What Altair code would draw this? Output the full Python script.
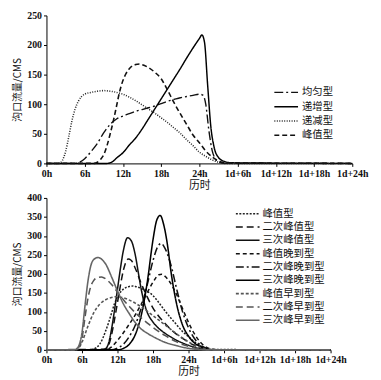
import altair as alt
import pandas as pd

TICK_HOURS = [0, 6, 12, 18, 24, 30, 36, 42, 48]
TICK_LABELS = ["0h", "6h", "12h", "18h", "24h", "1d+6h", "1d+12h", "1d+18h", "1d+24h"]
X_TITLE = "历时"
Y_TITLE = "沟口流量/CMS"

# ---------------- top panel ----------------
TOP_NAMES = ["均匀型", "递增型", "递减型", "峰值型"]

UNIFORM_H = [0, 4.5, 5, 6, 7, 8, 9, 10, 11, 12, 13, 14, 15, 16, 17, 18, 19, 20, 21, 22, 23, 24, 24.6, 25, 25.5, 26, 26.5, 27, 28, 48]
UNIFORM_V = [0, 0, 1, 8, 20, 34, 52, 66, 75, 80, 84, 88, 91, 94, 97, 101, 105, 108, 111, 113, 115, 117, 115, 100, 55, 22, 8, 3, 0, 0]

INCR_H = [0, 9.5, 10, 10.5, 11, 12, 13, 14, 15, 16, 17, 18, 19, 20, 21, 22, 23, 24, 24.4, 24.8, 25.3, 25.8, 26.3, 27, 28, 29, 48]
INCR_V = [0, 0, 1, 4, 9, 18, 31, 43, 58, 75, 92, 109, 126, 143, 160, 178, 195, 211, 217, 205, 132, 62, 28, 10, 3, 1, 0]

DECR_H = [0, 2, 2.5, 3, 3.5, 4, 4.5, 5, 5.5, 6, 7, 8, 9, 10, 11, 12, 13, 14, 15, 16, 17, 18, 19, 20, 21, 22, 23, 24, 25, 26, 27, 28, 48]
DECR_V = [0, 0, 5, 20, 45, 72, 92, 105, 113, 117, 120, 122, 123, 122, 120, 117, 112, 106, 99, 92, 85, 77, 69, 60, 51, 40, 30, 19, 12, 6, 2, 0, 0]

PEAK_H = [0, 7.5, 8, 8.5, 9, 9.5, 10, 10.5, 11, 11.5, 12, 12.5, 13, 14, 14.6, 15, 16, 17, 18, 19, 20, 21, 22, 23, 24, 25, 26, 27, 28, 48]
PEAK_V = [0, 0, 2, 7, 15, 30, 50, 72, 97, 122, 140, 152, 160, 167, 168, 167, 162, 154, 143, 124, 103, 84, 66, 48, 35, 21, 11, 4, 1, 0]

TOP_SERIES = [(UNIFORM_H, UNIFORM_V), (INCR_H, INCR_V), (DECR_H, DECR_V), (PEAK_H, PEAK_V)]
TOP_COLORS = ["#111111", "#000000", "#222222", "#111111"]
TOP_DASH = [[9, 3, 2, 3], [1, 0], [1, 1.5], [5, 3]]
TOP_WIDTH = [1.4, 1.6, 1.0, 1.5]

# ---------------- bottom panel ----------------
BOT_NAMES = ["峰值型", "二次峰值型", "三次峰值型", "峰值晚到型", "二次峰晚到型", "三次峰晚到型",
             "峰值早到型", "二次峰早到型", "三次峰早到型"]

B_PEAK_H = PEAK_H
B_PEAK_V = PEAK_V

B_P2_H = [0, 10, 10.5, 11, 11.5, 12, 12.5, 13, 13.8, 14.3, 15, 16, 17, 18, 19, 20, 21, 22, 23, 24, 25, 26, 27, 28, 48]
B_P2_V = [0, 2, 12, 40, 80, 125, 170, 210, 239, 236, 215, 175, 140, 110, 88, 70, 54, 41, 30, 20, 12, 6, 2, 0, 0]

B_P3_H = [0, 9.5, 10, 10.5, 11, 11.5, 12, 12.5, 13, 13.7, 14.3, 15, 15.5, 16, 16.5, 17, 18, 19, 20, 21, 22, 23, 24, 25, 26, 27, 28, 48]
B_P3_V = [0, 0, 3, 18, 55, 105, 160, 215, 262, 295, 288, 250, 205, 160, 125, 100, 73, 56, 44, 34, 25, 18, 12, 7, 3, 1, 0, 0]

B_LATE1_H = [0, 10, 11, 12, 13, 14, 15, 16, 17, 18, 19, 19.5, 20, 21, 22, 23, 24, 25, 26, 27, 28, 29, 48]
B_LATE1_V = [0, 0, 8, 25, 45, 68, 92, 120, 150, 178, 198, 199, 194, 175, 145, 108, 72, 42, 20, 7, 2, 0, 0]

B_LATE2_H = [0, 11, 12, 13, 14, 15, 16, 17, 18, 18.8, 19.4, 20, 21, 22, 23, 24, 25, 26, 27, 28, 48]
B_LATE2_V = [0, 0, 5, 15, 35, 65, 110, 170, 235, 272, 280, 268, 225, 160, 100, 58, 30, 13, 4, 0, 0]

B_LATE3_H = [0, 12, 13, 14, 15, 16, 17, 18, 18.6, 19.2, 19.8, 20.5, 21, 22, 23, 24, 25, 26, 27, 28, 48]
B_LATE3_V = [0, 0, 4, 15, 40, 90, 175, 290, 340, 354, 330, 270, 210, 120, 65, 36, 18, 9, 3, 0, 0]

B_EARLY1_H = [0, 5, 5.5, 6, 7, 8, 9, 10, 11, 11.8, 13, 14, 15, 16, 17, 18, 19, 20, 21, 22, 23, 24, 25, 26, 27, 28, 48]
B_EARLY1_V = [0, 0, 5, 20, 62, 98, 120, 132, 138, 140, 137, 131, 123, 113, 102, 90, 78, 66, 54, 42, 31, 21, 13, 6, 2, 0, 0]

B_EARLY2_H = [0, 5, 5.5, 6, 6.5, 7, 7.5, 8, 8.5, 9.3, 10, 11, 12, 13, 14, 15, 16, 17, 18, 19, 20, 21, 22, 23, 24, 25, 26, 27, 48]
B_EARLY2_V = [0, 1, 8, 30, 85, 135, 168, 183, 190, 192, 187, 172, 152, 132, 114, 98, 84, 71, 59, 48, 38, 29, 21, 14, 9, 5, 2, 0, 0]

B_EARLY3_H = [0, 4.8, 5, 5.5, 6, 6.5, 7, 7.5, 8, 8.7, 9.5, 10, 11, 12, 13, 14, 15, 16, 17, 18, 19, 20, 21, 22, 23, 24, 25, 26, 27, 48]
B_EARLY3_V = [0, 0, 2, 12, 45, 115, 180, 222, 238, 243, 236, 226, 192, 155, 121, 95, 72, 55, 44, 35, 27, 20, 15, 11, 7, 4, 2, 1, 0, 0]

BOT_SERIES = [(B_PEAK_H, B_PEAK_V), (B_P2_H, B_P2_V), (B_P3_H, B_P3_V),
              (B_LATE1_H, B_LATE1_V), (B_LATE2_H, B_LATE2_V), (B_LATE3_H, B_LATE3_V),
              (B_EARLY1_H, B_EARLY1_V), (B_EARLY2_H, B_EARLY2_V), (B_EARLY3_H, B_EARLY3_V)]
BOT_COLORS = ["#222222", "#111111", "#111111", "#111111", "#111111", "#000000", "#555555", "#555555", "#666666"]
BOT_DASH = [[2, 1.5], [7, 4], [1, 0], [4, 3], [8, 3, 2, 3], [1, 0], [3, 2], [7, 4], [1, 0]]
BOT_WIDTH = [1.5, 1.6, 1.5, 2.0, 2.0, 2.2, 1.0, 1.0, 1.3]


def frame(names, series):
    rows = []
    for name, (hs, vs) in zip(names, series):
        for h, v in zip(hs, vs):
            rows.append({"t": h, "q": v, "s": name})
    return pd.DataFrame(rows)


label_expr = "[" + ",".join("'%s'" % s for s in TICK_LABELS) + "][round(datum.value/6)]"


def panel(names, series, colors, dashes, widths, ymax, ystep, w, h, lx, ly, loff, rowpad):
    df = frame(names, series)
    leg = alt.Legend(orient="none", legendX=lx, legendY=ly, title=None,
                     symbolType="M-2,0H2", symbolSize=144, labelFont="Noto Sans CJK SC",
                     labelFontSize=10.5, labelColor="#111", rowPadding=rowpad, labelOffset=loff)
    return alt.Chart(df).mark_line(interpolate="monotone").encode(
        x=alt.X("t:Q", scale=alt.Scale(domain=[0, 48], nice=False),
                axis=alt.Axis(values=TICK_HOURS, labelExpr=label_expr, title=X_TITLE,
                              grid=False, tickSize=3, labelFlush=False)),
        y=alt.Y("q:Q", scale=alt.Scale(domain=[0, ymax], nice=False),
                axis=alt.Axis(values=list(range(0, ymax + 1, ystep)), title=Y_TITLE,
                              grid=False, tickSize=3)),
        color=alt.Color("s:N", scale=alt.Scale(domain=names, range=colors), legend=leg),
        strokeDash=alt.StrokeDash("s:N", scale=alt.Scale(domain=names, range=dashes), legend=leg),
        strokeWidth=alt.StrokeWidth("s:N", scale=alt.Scale(domain=names, range=widths), legend=leg),
        detail="s:N",
    ).properties(width=w, height=h)


top = panel(TOP_NAMES, TOP_SERIES, TOP_COLORS, TOP_DASH, TOP_WIDTH, 250, 50, 310, 150, 236, 71, 9, 1.5)
bottom = panel(BOT_NAMES, BOT_SERIES, BOT_COLORS, BOT_DASH, BOT_WIDTH, 400, 50, 288, 154, 197, 9, 8, 0.5)

chart = alt.vconcat(top, bottom, spacing=3).resolve_scale(
    color="independent", strokeDash="independent", strokeWidth="independent", x="independent", y="independent"
).resolve_legend(color="independent", strokeDash="independent", strokeWidth="independent").configure_view(
    stroke=None
).configure_axis(
    labelFont="Liberation Serif", labelFontWeight="bold", labelFontSize=10, labelColor="#111",
    titleFont="Noto Sans CJK SC", titleFontWeight="normal", titleColor="#111",
    domainColor="#000", tickColor="#000", labelPadding=2,
).configure_axisX(titleFontSize=11, titlePadding=1).configure_axisY(titleFontSize=10, titlePadding=4).properties(
    padding={"left": 5, "top": 0, "right": 5, "bottom": 0}
)

chart.save("out.html", embed_options={"renderer": "svg", "actions": False})
